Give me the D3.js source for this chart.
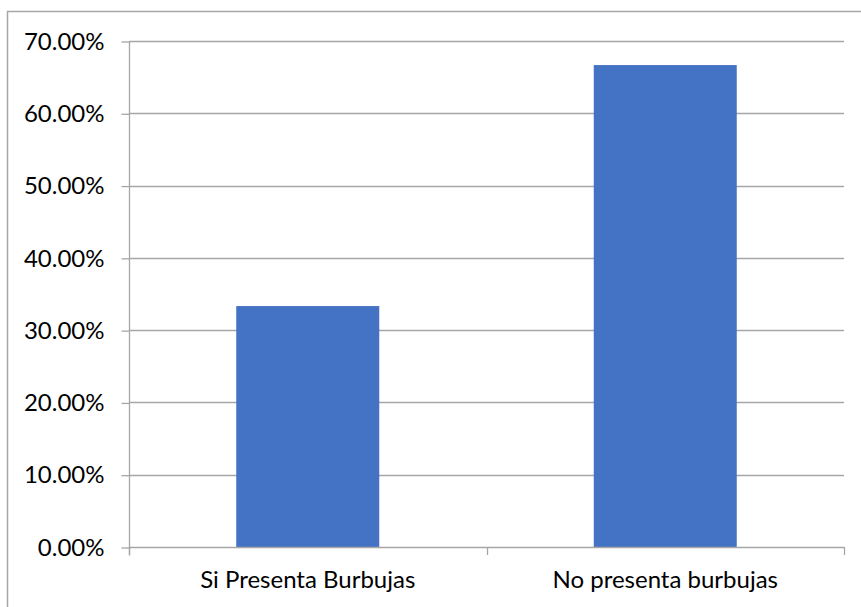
<!DOCTYPE html>
<html>
<head>
<meta charset="utf-8">
<script src="https://cdn.jsdelivr.net/npm/d3@7"></script>
<style>
  html, body { margin: 0; padding: 0; background: #fff; }
  svg { display: block; }
  text { font-family: Lato, "Open Sans", sans-serif; fill: #000; }
</style>
</head>
<body>
<svg id="chart" width="861" height="607"></svg>
<script>
// Share of samples with and without bubbles
const categories = ["Si Presenta Burbujas", "No presenta burbujas"];
const values = [0.3333, 0.6667];
const tickValues = [0, 0.1, 0.2, 0.3, 0.4, 0.5, 0.6, 0.7];

const svg = d3.select("#chart");
const W = 861, H = 607;
const plot = { left: 129, right: 844, top: 41, bottom: 547 };

// outer frame (top and left edges visible)
svg.append("path")
  .attr("d", `M7.5,${H} L7.5,11.5 L${W},11.5`)
  .attr("fill", "none")
  .attr("stroke", "#a6a6a6")
  .attr("stroke-width", 1.5);

const x = d3.scaleBand()
  .domain(categories)
  .range([plot.left, plot.right])
  .paddingInner(0.6)
  .paddingOuter(0.3);

const y = d3.scaleLinear()
  .domain([0, 0.7])
  .range([plot.bottom, plot.top]);

// horizontal gridlines
svg.append("g")
  .selectAll("line")
  .data(tickValues.filter(d => d > 0))
  .join("line")
  .attr("x1", plot.left)
  .attr("x2", plot.right)
  .attr("y1", d => Math.round(y(d)) + 0.5)
  .attr("y2", d => Math.round(y(d)) + 0.5)
  .attr("stroke", "#a6a6a6")
  .attr("stroke-width", 1.3);

// bars
svg.append("g")
  .selectAll("rect")
  .data(values)
  .join("rect")
  .attr("x", (d, i) => x(categories[i]))
  .attr("width", x.bandwidth())
  .attr("y", d => y(d))
  .attr("height", d => y(0) - y(d))
  .attr("fill", "#4472c4");

// y axis
const yAxis = d3.axisLeft(y)
  .tickValues(tickValues)
  .tickFormat(d3.format(".2%"))
  .tickSize(8)
  .tickPadding(17);

const gy = svg.append("g")
  .attr("transform", `translate(${plot.left + 0.5},0.5)`)
  .call(yAxis);
gy.selectAll("path, line").attr("stroke", "#a6a6a6").attr("stroke-width", 1.3);
gy.select(".domain").attr("d", `M0,${plot.top} V${plot.bottom + 8}`);
gy.selectAll("text").style("font-size", "24px").style("font-family", "Lato, sans-serif").attr("fill", "#000");

// x axis: boundary ticks between categories
const bounds = [plot.left, (plot.left + plot.right) / 2, plot.right];
const gx = svg.append("g");
gx.append("line")
  .attr("x1", plot.left).attr("x2", plot.right)
  .attr("y1", plot.bottom + 0.5).attr("y2", plot.bottom + 0.5)
  .attr("stroke", "#a6a6a6").attr("stroke-width", 1.3);
gx.selectAll("line.tick")
  .data(bounds)
  .join("line")
  .attr("class", "tick")
  .attr("x1", d => Math.round(d) + 0.5).attr("x2", d => Math.round(d) + 0.5)
  .attr("y1", plot.bottom).attr("y2", plot.bottom + 8)
  .attr("stroke", "#a6a6a6").attr("stroke-width", 1.3);
gx.selectAll("text")
  .data(categories)
  .join("text")
  .attr("x", d => x(d) + x.bandwidth() / 2)
  .attr("y", 588)
  .attr("text-anchor", "middle")
  .style("font-size", "24px")
  .text(d => d);
</script>
</body>
</html>
